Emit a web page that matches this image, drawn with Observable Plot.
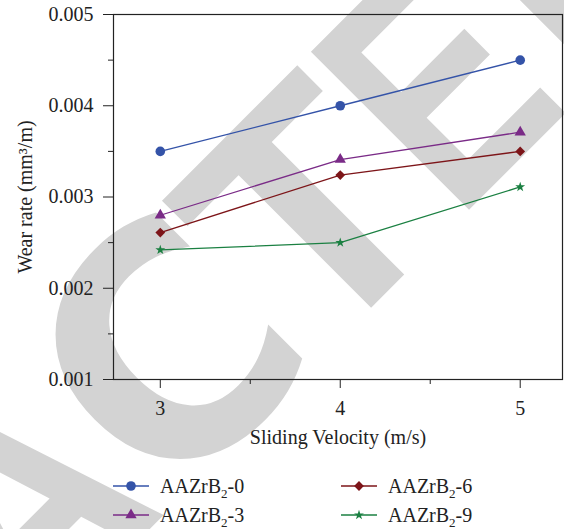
<!DOCTYPE html>
<html>
<head>
<meta charset="utf-8">
<script src="https://cdn.jsdelivr.net/npm/d3@7"></script>
<script src="https://cdn.jsdelivr.net/npm/@observablehq/plot@0.6"></script>
<style>
  html, body { margin: 0; padding: 0; background: #fff; }
  #wrap { position: relative; width: 564px; height: 529px; overflow: hidden; font-family: 'Liberation Serif', 'Times New Roman', serif; }
  #wm { position: absolute; left: 0; top: 0; z-index: 0; }
  #chart { position: absolute; left: 0; top: 0; z-index: 1; }
  #legend { position: absolute; left: 0; top: 0; width: 564px; height: 529px; z-index: 2; }
  .item { position: absolute; display: flex; align-items: center; height: 24px; font-size: 20px; color: #222; white-space: nowrap; }
  .item svg { margin-right: 11px; }
  .item sub { font-size: 13px; vertical-align: -5px; line-height: 0; }
</style>
</head>
<body>
<div id="wrap">
  <svg id="wm" width="564" height="529"></svg>
  <div id="chart"></div>
  <div id="legend"></div>
</div>
<script>
// ---- data ----
const velocity = [3, 4, 5];
const seriesNames = ["AAZrB2-0", "AAZrB2-3", "AAZrB2-6", "AAZrB2-9"];
const rate0 = [0.0035, 0.0040, 0.0045];
const rate3 = [0.00280, 0.00341, 0.00371];
const rate6 = [0.00261, 0.00324, 0.00350];
const rate9 = [0.00242, 0.00250, 0.00311];
const xTicks = [3, 4, 5];
const xMinor = [3.5, 4.5];
const yTicks = [0.001, 0.002, 0.003, 0.004, 0.005];
const yMinor = [0.0015, 0.0025, 0.0035, 0.0045];
const xLabel = "Sliding Velocity (m/s)";
const yLabel = "Wear rate (mm³/m)";
const watermarkText = "RETRACTED";

const colors = ["#3453a8", "#7a2b87", "#7d1519", "#1b8042"];
const symbols = ["circle", "triangle", "diamond2", "star"];
const radii = [4.8, 4.2, 4.4, 3.1];
const rates = [rate0, rate3, rate6, rate9];

const rows = [];
rates.forEach((arr, i) => velocity.forEach((v, j) => rows.push({series: seriesNames[i], idx: i, v, rate: arr[j]})));

// ---- watermark (decorative, behind the chart) ----
const wmLetterOrigin = [-1268, -1057, -862, -663, -452, -245, -31, 167, 348];
const wmLetterScale = [0.9, 0.84, 1, 0.9, 0.9, 0.96, 1, 0.75, 0.9];
const wmLetterFont = ["L", "L", "L", "L", "L", "D", "L", "L", "L"];
const wmG = d3.select("#wm").append("g")
  .attr("transform", "translate(339.4,339.4) rotate(-45)");
watermarkText.split("").forEach((ch, i) => {
  const dejavu = wmLetterFont[i] === "D";
  wmG.append("text")
    .attr("transform", `translate(${wmLetterOrigin[i]},0) scale(${wmLetterScale[i]},1)`)
    .attr("font-family", dejavu ? "'DejaVu Sans', sans-serif" : "'Liberation Sans', Arial, sans-serif")
    .attr("font-weight", "bold")
    .attr("font-size", dejavu ? 319 : 325)
    .attr("fill", "#d3d3d3")
    .text(ch);
});

// ---- chart ----
const marks = [
  Plot.frame({stroke: "#222", strokeWidth: 1.2}),
  Plot.axisX(xMinor, {tickSize: 5, tickFormat: () => "", label: null, stroke: "#222"}),
  Plot.axisX(xTicks, {tickSize: 9, tickPadding: 12, tickFormat: d => String(d), label: xLabel, labelAnchor: "center", labelOffset: 64, labelArrow: "none", stroke: "#222"}),
  Plot.axisY(yMinor, {tickSize: 5, tickFormat: () => "", label: null, stroke: "#222"}),
  Plot.axisY(yTicks, {tickSize: 10, tickPadding: 10, tickFormat: d => d.toFixed(3), label: yLabel, labelAnchor: "center", labelOffset: 96, labelArrow: "none", stroke: "#222"})
];
seriesNames.forEach((name, i) => {
  const data = rows.filter(d => d.idx === i);
  marks.push(Plot.line(data, {x: "v", y: "rate", stroke: colors[i], strokeWidth: 1.3}));
  marks.push(Plot.dot(data, {x: "v", y: "rate", fill: colors[i], symbol: symbols[i], r: radii[i], stroke: "none"}));
});

const chart = Plot.plot({
  width: 564,
  height: 460,
  marginTop: 14,
  marginLeft: 113,
  marginRight: 2,
  marginBottom: 81,
  style: {fontFamily: "'Liberation Serif', 'Times New Roman', serif", fontSize: "20px", background: "transparent", color: "#222", overflow: "visible"},
  x: {domain: [2.74, 5.235]},
  y: {domain: [0.001, 0.005]},
  marks
});
document.getElementById("chart").appendChild(chart);

// ---- legend ----
const legend = d3.select("#legend");
const legendPos = [[113, 486], [113, 515], [341, 486], [341, 515]];
seriesNames.forEach((name, i) => {
  const [lx, ly] = legendPos[i];
  const item = legend.append("div").attr("class", "item")
    .style("left", lx + "px").style("top", (ly - 12) + "px");
  const s = item.append("svg").attr("width", 36).attr("height", 24);
  s.append("line").attr("x1", 0).attr("x2", 36).attr("y1", 12).attr("y2", 12)
    .attr("stroke", colors[i]).attr("stroke-width", 1.3);
  const symType = {circle: d3.symbolCircle, triangle: d3.symbolTriangle, diamond2: d3.symbolDiamond2, star: d3.symbolStar}[symbols[i]];
  s.append("path").attr("transform", "translate(18,12)")
    .attr("d", d3.symbol(symType, Math.PI * radii[i] * radii[i])())
    .attr("fill", colors[i]);
  const parts = name.split("2");
  const span = item.append("span");
  span.append("span").text(parts[0]);
  span.append("sub").text("2");
  span.append("span").text(parts[1]);
});
</script>
</body>
</html>
